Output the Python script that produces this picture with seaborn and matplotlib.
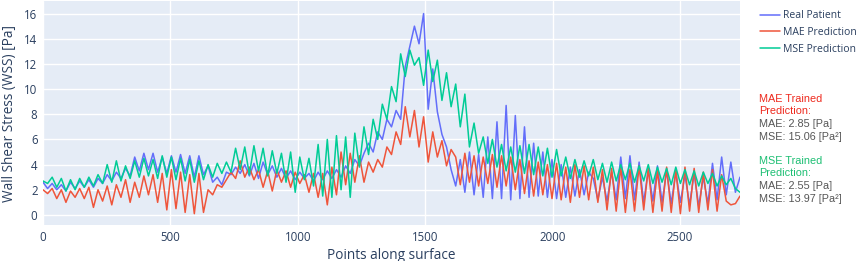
import numpy as np
import pandas as pd
import matplotlib
matplotlib.use('Agg')
import matplotlib.pyplot as plt
import seaborn as sns

# WSS values, one value every 18 points along the surface
step = 18

real_patient = [
    2.6, 2.1, 2.5, 2.0, 2.4, 1.9, 2.6, 2.1, 2.7, 2.2,
    2.8, 2.2, 2.9, 2.5, 3.2, 2.7, 3.4, 2.9, 3.7, 3.1,
    4.6, 3.5, 4.9, 3.6, 4.9, 3.4, 4.6, 3.3, 4.7, 3.4,
    4.8, 3.3, 4.7, 3.0, 4.7, 3.2, 3.9, 2.6, 3.0, 2.4,
    3.4, 3.2, 3.8, 3.3, 4.0, 3.1, 4.1, 2.9, 4.2, 3.2,
    3.9, 3.0, 3.7, 2.9, 3.5, 2.8, 3.4, 2.9, 3.3, 2.7,
    3.4, 2.8, 3.5, 2.9, 3.6, 3.0, 3.9, 3.3, 4.4, 3.9,
    4.9, 5.7, 5.0, 6.6, 6.0, 7.6, 7.0, 8.3, 7.6, 11.8,
    13.4, 15.0, 13.6, 16.0, 8.4, 11.6, 8.2, 6.4, 5.4, 3.6,
    2.3, 4.4, 1.8, 5.0, 1.6, 4.8, 1.4, 6.2, 1.3, 7.4,
    1.3, 8.7, 1.2, 7.9, 1.3, 7.0, 1.4, 5.7, 1.5, 5.0,
    1.4, 4.4, 1.3, 4.0, 1.4, 3.8, 1.5, 3.6, 1.6, 3.4,
    2.9, 1.2, 3.0, 1.1, 3.4, 1.2, 4.6, 1.3, 4.7, 1.2,
    4.2, 1.0, 3.6, 1.1, 3.9, 1.0, 3.5, 0.9, 3.4, 1.0,
    3.2, 0.8, 3.3, 0.7, 3.0, 0.9, 4.1, 1.2, 4.6, 1.6,
    4.2, 1.8, 3.0,
]

mae_prediction = [
    2.0, 1.7, 2.1, 1.3, 2.0, 1.0, 1.9, 1.4, 2.1, 1.3,
    2.2, 0.6, 2.0, 1.1, 2.3, 0.8, 2.4, 1.4, 2.8, 1.0,
    2.6, 1.4, 3.1, 1.6, 3.2, 1.0, 3.3, 0.4, 3.6, 0.5,
    3.4, 0.2, 3.2, 0.1, 3.3, 0.2, 2.0, 1.6, 2.4, 2.2,
    2.8, 3.4, 2.9, 4.3, 3.0, 3.8, 2.8, 3.6, 2.2, 3.5,
    1.9, 3.6, 2.6, 3.5, 2.2, 3.4, 2.5, 3.2, 1.8, 3.3,
    1.4, 3.3, 0.8, 3.8, 1.6, 5.0, 2.4, 4.9, 2.6, 4.7,
    2.6, 4.2, 3.4, 4.4, 3.8, 5.4, 4.8, 6.6, 5.6, 8.6,
    6.2, 8.3, 5.4, 7.8, 4.2, 6.6, 4.6, 5.9, 3.9, 5.2,
    4.6, 2.4, 4.9, 2.6, 4.7, 2.3, 4.6, 2.5, 4.8, 2.2,
    4.7, 2.3, 4.6, 2.0, 4.4, 1.7, 4.3, 1.5, 4.2, 1.6,
    4.0, 1.3, 4.1, 1.2, 3.8, 1.0, 4.0, 1.4, 3.9, 1.2,
    3.8, 1.0, 3.6, 0.4, 3.7, 0.3, 3.8, 0.2, 3.6, 0.3,
    3.9, 0.4, 3.7, 0.2, 3.5, 0.3, 3.8, 0.2, 3.6, 0.1,
    3.8, 0.3, 3.7, 0.2, 3.4, 0.4, 3.6, 0.3, 3.2, 1.1,
    0.8, 0.9, 1.5,
]

mse_prediction = [
    2.7, 2.5, 3.0, 2.2, 2.9, 1.9, 2.8, 2.0, 2.9, 2.2,
    3.0, 2.3, 3.2, 2.5, 4.0, 2.6, 4.3, 2.7, 3.9, 2.9,
    4.3, 3.0, 4.5, 3.1, 4.4, 2.9, 4.7, 3.0, 4.6, 2.8,
    4.5, 2.7, 4.4, 2.6, 4.3, 2.8, 4.0, 3.0, 4.1, 3.3,
    4.2, 3.4, 5.3, 3.6, 5.4, 3.2, 5.5, 3.5, 5.3, 3.1,
    5.1, 3.3, 4.9, 2.6, 5.0, 1.8, 4.6, 2.8, 4.5, 2.3,
    5.6, 1.5, 6.0, 1.4, 6.3, 2.0, 6.2, 1.4, 6.5, 3.8,
    7.0, 4.8, 7.6, 6.0, 8.8, 7.6, 10.2, 9.0, 12.8, 11.0,
    13.1, 11.9, 12.5, 10.3, 13.1, 10.6, 12.3, 9.1, 11.3, 8.6,
    10.4, 7.0, 9.6, 5.4, 7.3, 4.9, 6.2, 4.1, 6.0, 3.8,
    5.6, 3.5, 5.4, 3.4, 5.5, 3.3, 5.6, 3.2, 5.4, 3.1,
    5.3, 3.0, 5.2, 3.1, 4.6, 2.9, 4.4, 3.0, 4.3, 3.1,
    4.4, 2.8, 4.1, 2.6, 4.2, 2.7, 4.0, 2.8, 4.1, 2.6,
    3.9, 2.7, 4.0, 2.5, 3.8, 2.6, 3.7, 2.4, 3.8, 2.5,
    3.6, 2.4, 3.5, 2.3, 3.4, 2.5, 3.3, 2.3, 3.1, 2.4,
    2.9, 2.1, 1.8,
]

series_names = ['Real Patient', 'MAE Prediction', 'MSE Prediction']
colors = ['#636EFA', '#EF553B', '#00CC96']

frames = []
for name, vals in zip(series_names, [real_patient, mae_prediction, mse_prediction]):
    frames.append(pd.DataFrame({'point': np.arange(len(vals)) * step,
                                'wss': vals, 'series': name}))
df = pd.concat(frames, ignore_index=True)

sns.set_theme(style='darkgrid', rc={'axes.facecolor': '#E5ECF6',
                                    'grid.color': 'white',
                                    'grid.linewidth': 1.0})
plt.rcParams['font.family'] = ['Open Sans', 'DejaVu Sans']

fig = plt.figure(figsize=(8.58, 2.61), dpi=100)
ax = fig.add_axes([43 / 858, 1 - 225 / 261, (740 - 43) / 858, 224 / 261])

sns.lineplot(data=df, x='point', y='wss', hue='series', hue_order=series_names,
             palette=colors, linewidth=1.1, ax=ax, sort=False)

ax.set_xlim(0, 2736)
ax.set_ylim(-0.8, 17.0)
ax.set_xticks([0, 500, 1000, 1500, 2000, 2500])
ax.set_yticks(range(0, 17, 2))
ax.tick_params(axis='both', labelsize=8.3, colors='#2a3f5f', length=0, pad=4)
for s in ax.spines.values():
    s.set_visible(False)
ax.set_xlabel('Points along surface', fontsize=9.8, color='#2a3f5f', labelpad=3)
ax.set_ylabel('Wall Shear Stress (WSS) [Pa]', fontsize=9.8, color='#2a3f5f', labelpad=5)

handles, labels = ax.get_legend_handles_labels()
ax.legend(handles, labels, loc='upper left', bbox_to_anchor=(752 / 858, 1 - 2 / 261),
          bbox_transform=fig.transFigure, frameon=False, fontsize=7.5,
          handlelength=1.9, handletextpad=0.3, labelspacing=0.55,
          labelcolor='#2a3f5f', borderpad=0.3)

red_txt = '#EE2A1E'
green_txt = '#1DBF73'
gray_txt = '#555555'
tx = 759 / 858
fs = 7.8
annot = [
    ('MAE Trained', red_txt, 99),
    ('Prediction:', red_txt, 111),
    ('MAE: 2.85 [Pa]', gray_txt, 124),
    ('MSE: 15.06 [Pa²]', gray_txt, 137),
    ('MSE Trained', green_txt, 161),
    ('Prediction:', green_txt, 173),
    ('MAE: 2.55 [Pa]', gray_txt, 186),
    ('MSE: 13.97 [Pa²]', gray_txt, 199),
]
for txt, col, ypx in annot:
    fig.text(tx, 1 - ypx / 261, txt, color=col, fontsize=fs, va='center',
             family=['Liberation Sans', 'DejaVu Sans'])

fig.savefig('out.png', dpi=100)
